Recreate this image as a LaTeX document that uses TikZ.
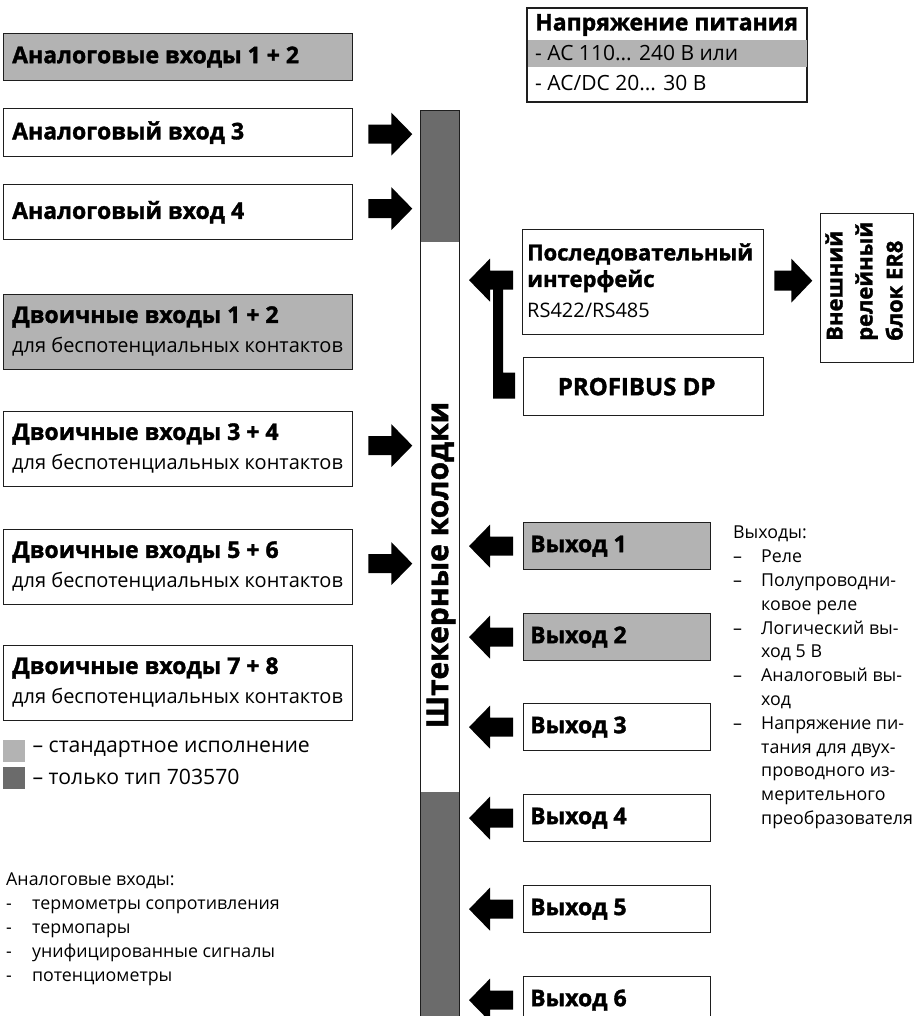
\documentclass[tikz,border=0pt]{standalone}
\usepackage{fontspec}
\setmainfont{Open Sans}[BoldFeatures={FakeBold=1.5}]
\usetikzlibrary{calc}
\definecolor{lgray}{HTML}{B3B3B3}
\definecolor{dgray}{HTML}{6B6B6B}
\definecolor{edge}{HTML}{1E1E1E}
\newcommand{\fbig}{\fontsize{23}{28}\selectfont\bfseries}
\newcommand{\fvert}{\fontsize{30}{34}\selectfont\bfseries}
\newcommand{\fmed}{\fontsize{20}{29}\selectfont}
\newcommand{\fleg}{\fontsize{21.2}{29}\selectfont}
\newcommand{\fsm}{\fontsize{17.8}{23.8}\selectfont}
\tikzset{
  box/.style={draw=edge, line width=1.3pt, inner sep=0pt, anchor=north west},
  txt/.style={inner sep=0pt, anchor=west},
  rarr/.pic={\fill[black] (0,-9.5) -- (23,-9.5) -- (23,-21.5) -- (44,0) -- (23,21.5) -- (23,9.5) -- (0,9.5) -- cycle;},
  larr/.pic={\fill[black] (0,-9.5) -- (-23,-9.5) -- (-23,-21.5) -- (-44,0) -- (-23,21.5) -- (-23,9.5) -- (0,9.5) -- cycle;},
  srarr/.pic={\fill[black] (0,-10) -- (17,-10) -- (17,-22) -- (38,0) -- (17,22) -- (17,10) -- (0,10) -- cycle;},
}
\begin{document}
\begin{tikzpicture}[x=1pt,y=-1pt]
\useasboundingbox (0,0) rectangle (915,1016);
\clip (0,0) rectangle (915,1016);
% ---------- left input boxes
\node[box, fill=lgray, minimum width=349, minimum height=47] (ai12) at (3,33) {};
\node[txt, font=\fbig] (ai12t) at ($(ai12.west)+(9,0)$) {Аналоговые входы 1 + 2};
\node[box, minimum width=349, minimum height=48] (ai3) at (3,108) {};
\node[txt, font=\fbig] (ai3t) at ($(ai3.west)+(9,0)$) {Аналоговый вход 3};
\node[box, minimum width=349, minimum height=55] (ai4) at (3,184) {};
\node[txt, font=\fbig] (ai4t) at ($(ai4.west)+(9,0)$) {Аналоговый вход 4};
\foreach \n/\y/\f/\a/\b in {bi12/294/lgray/1/2, bi34/411/white/3/4, bi56/529/white/5/6, bi78/645/white/7/8}{
  \node[box, fill=\f, minimum width=349, minimum height=75] (\n) at (3,\y) {};
  \node[txt, font=\fbig] (\n t) at ($(\n.north west)+(9,23)$) {Двоичные входы \a{} + \b};
  \node[txt, font=\fmed] (\n s) at ($(\n.north west)+(9,53)$) {для беспотенциальных контактов};
}
% ---------- bar
\fill[dgray] (420,110) rectangle (459,242);
\fill[dgray] (420,792) rectangle (459,1030);
\node[box, line width=1.3pt, minimum width=39, minimum height=920] (bar) at (420,110) {};
\node[rotate=90, font=\fvert, inner sep=0pt] (bart) at (441,565) {Штекерные колодки};
% arrows into bar
\pic at ($(ai3.east)+(15,1.5)$) {rarr};
\pic at ($(ai4.east)+(15,-3.5)$) {rarr};
\pic at ($(bi34.east)+(15,-3.5)$) {rarr};
\pic at ($(bi56.east)+(15,-3.5)$) {rarr};
% ---------- power supply
\node[box, minimum width=279, minimum height=93] (pw) at (527,8) {};
\fill[lgray] ($(pw.north west)+(0,32)$) rectangle ($(pw.north east)+(0,59)$);
\draw[edge, line width=1.3pt] (pw.north west) rectangle (pw.south east);
\node[txt, font=\fbig] (pw1) at ($(pw.north west)+(8,17)$) {Напряжение питания};
\node[txt, font=\fontsize{21}{29}\selectfont] (pw2) at ($(pw.north west)+(8,45)$) {- AC 110... 240 В или};
\node[txt, font=\fontsize{21}{29}\selectfont] (pw3) at ($(pw.north west)+(8,75)$) {- AC/DC 20... 30 В};
% ---------- serial interface
\node[box, minimum width=241, minimum height=105] (ser) at (522,229) {};
\node[txt, font=\fontsize{22}{28}\selectfont\bfseries] (ser1) at ($(ser.north west)+(5,25)$) {Последовательный};
\node[txt, font=\fontsize{22}{28}\selectfont\bfseries] (ser2) at ($(ser.north west)+(5,52)$) {интерфейс};
\node[txt, font=\fmed] (ser3) at ($(ser.north west)+(5,81)$) {RS422/RS485};
\node[box, minimum width=240, minimum height=58] (pb) at (523,357) {};
\node[font=\fontsize{24}{28}\selectfont\bfseries, inner sep=0pt] (pbt) at ($(pb.center)+(-7,0)$) {PROFIBUS DP};
\pic at ($(ser.west)+(-9,-2)$) {larr};
\coordinate (c1) at ($(pb.west)+(-30,-14)$);
\coordinate (c2) at ($(pb.west)+(-8,12)$);
\fill[black] (c1 |- ser.west) -- ($(c1 |- ser.west)+(10,0)$) -- ($(c1)+(10,0)$) -- (c2 |- c1) -- (c2) -- (c1 |- c2) -- cycle;
% ---------- ER8
\node[box, minimum width=93, minimum height=149] (er8) at (820,213) {};
\node[rotate=90, anchor=west, align=left, inner sep=0pt, font=\fontsize{22}{30}\selectfont\bfseries] (er8t) at (864,341) {Внешний\\релейный\\блок ER8};
\pic at ($(ser.east)+(10,-1.5)$) {srarr};
% ---------- outputs
\foreach \n/\y/\f/\k in {o1/522/lgray/1, o2/613/lgray/2, o3/703/white/3, o4/794/white/4, o5/885/white/5, o6/976/white/6}{
  \node[box, fill=\f, minimum width=187, minimum height=47] (\n) at (523,\y) {};
  \node[txt, font=\fbig] (\n t) at ($(\n.west)+(7,0)$) {Выход \k};
  \pic at ($(\n.west)+(-10,0)$) {larr};
}
\node[anchor=north west, inner sep=0pt, font=\fsm] (outl) at (733,522) {%
\begin{tabular}{@{}p{28pt}@{}l@{}}
\multicolumn{2}{@{}l}{Выходы:}\\
– & Реле\\
– & Полупроводни-\\
  & ковое реле\\
– & Логический вы-\\
  & ход 5 В\\
– & Аналоговый вы-\\
  & ход\\
– & Напряжение пи-\\
  & тания для двух-\\
  & проводного из-\\
  & мерительного\\
  & преобразователя
\end{tabular}};
% ---------- legend
\node[anchor=north west, fill=lgray, minimum width=22, minimum height=22, inner sep=0pt] (lg1) at (3,740) {};
\node[anchor=north west, fill=dgray, minimum width=22, minimum height=22, inner sep=0pt] (lg2) at (3,767) {};
\node[txt, font=\fleg] (lg1t) at ($(lg1.east)+(7,-2)$) {– стандартное исполнение};
\node[txt, font=\fleg] (lg2t) at ($(lg2.east)+(7,-1)$) {– только тип 703570};
% ---------- analog list
\node[anchor=north west, inner sep=0pt, font=\fsm] (anl) at (6,869) {%
\begin{tabular}{@{}p{26pt}@{}l@{}}
\multicolumn{2}{@{}l}{Аналоговые входы:}\\
- & термометры сопротивления\\
- & термопары\\
- & унифицированные сигналы\\
- & потенциометры
\end{tabular}};
\end{tikzpicture}
\end{document}
